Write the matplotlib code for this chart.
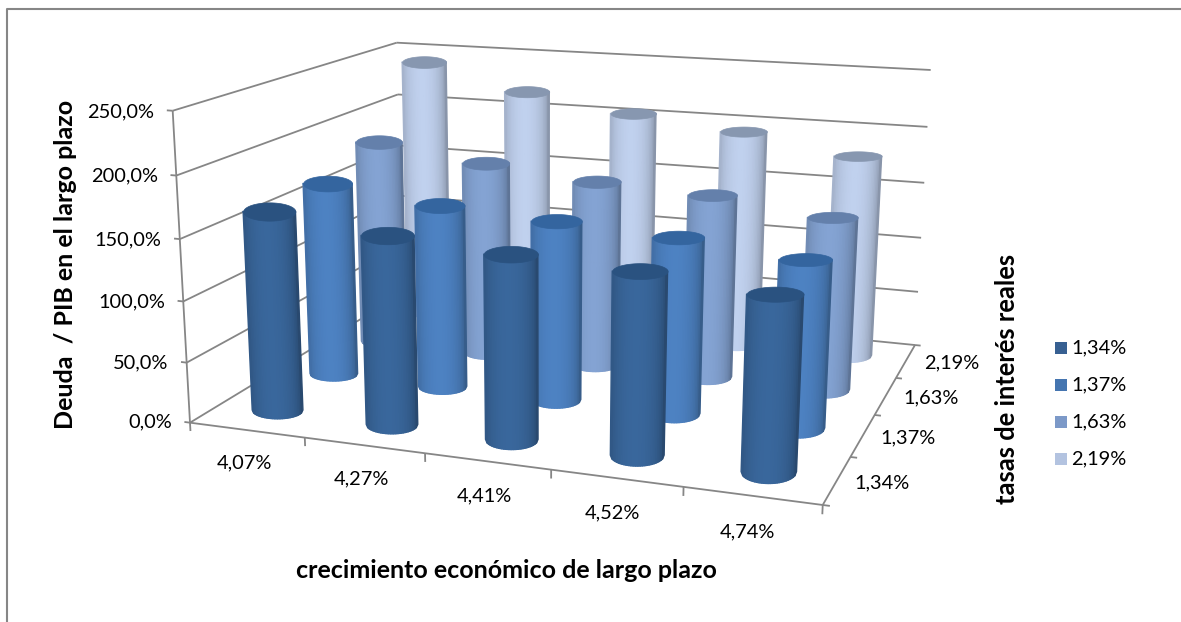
import numpy as np
import matplotlib
matplotlib.use("Agg")
import matplotlib.pyplot as plt
from matplotlib.lines import Line2D
from matplotlib.patches import Rectangle
from mpl_toolkits.mplot3d.art3d import Poly3DCollection

plt.rcParams['font.family'] = ['Lato', 'DejaVu Sans']

categories = ["4,07%", "4,27%", "4,41%", "4,52%", "4,74%"]
series_names = ["1,34%", "1,37%", "1,63%", "2,19%"]
v_134 = [165, 154, 148, 144, 136]
v_137 = [167, 156, 151, 146, 137]
v_163 = [184, 172, 163, 159, 148]
v_219 = [241, 219, 205, 195, 180]
values = [v_134, v_137, v_163, v_219]
z_ticks = [0, 50, 100, 150, 200, 250]
z_labels = ["0,0%", "50,0%", "100,0%", "150,0%", "200,0%", "250,0%"]
base_colors = ["#376396", "#4A7DBB", "#7F9DCB", "#B9C9E5"]
top_colors = ["#2A5280", "#34659F", "#6480AB", "#8797B0"]
legend_colors = ["#376092", "#4575B0", "#7C99C8", "#B3C3E0"]

W, H = 1181, 622
fig = plt.figure(figsize=(W / 100, H / 100), dpi=100, facecolor="white")
ax = fig.add_axes([0, 0, 1, 1], projection="3d", computed_zorder=False)
ax.set_proj_type("ortho")
ax.set_xticks([])
ax.set_yticks([])
ax.set_zticks([])
ax.set_axis_off()
ax.patch.set_visible(False)
ax.apply_aspect = lambda position=None: None

# camera calibration: axis box corners (data) -> canvas pixels
nx, ny, zmax = len(categories), len(series_names), z_ticks[-1]
calib = [((0, 0, zmax), (172.7, 110.7)), ((0, ny, zmax), (396.7, 42.7)),
         ((nx, ny, zmax), (930.7, 70.0)), ((0, 0, 0), (190.0, 422.7)),
         ((nx, 0, 0), (822.7, 505.0)), ((nx, ny, 0), (915.0, 345.0))]
rows = []
for (x, y, z), (u, v) in calib:
    z = z / zmax
    rows.append([x, y, z, 1, 0, 0, 0, 0, -u * x, -u * y, -u * z, -u])
    rows.append([0, 0, 0, 0, x, y, z, 1, -v * x, -v * y, -v * z, -v])
P = np.linalg.svd(np.array(rows, float))[2][-1].reshape(3, 4)
P[:, 2] /= zmax
if P[2, 3] < 0:
    P = -P


def project(x, y, z):
    q = P @ np.array([x, y, z, 1.0])
    return q[:2] / q[2]


x0, x1 = ax.viewLim.intervalx
y0, y1 = ax.viewLim.intervaly
A = np.array([[(x1 - x0) / W, 0, x0], [0, -(y1 - y0) / H, y1], [0, 0, 1]])
Q = A @ P
M = np.array([Q[0], Q[1], [0, 1e-3, 0, 0.5], Q[2]])
ax.get_proj = lambda: M

GRID = "#868686"
LW = 1.3


def seg(a, b, z=1):
    ax.plot([a[0], b[0]], [a[1], b[1]], [a[2], b[2]], color=GRID, lw=LW, zorder=z, solid_capstyle="butt")


for t in z_ticks:
    seg((0, 0, t), (0, ny, t))
    seg((0, ny, t), (nx, ny, t))
    seg((-0.05, 0, t), (0, 0, t))
seg((0, 0, 0), (0, 0, zmax))
seg((0, 0, 0), (nx, 0, 0))
seg((nx, 0, 0), (nx, ny, 0))
for i in range(nx + 1):
    seg((i, 0, 0), (i, 0, -7))
for j in range(ny + 1):
    seg((nx, j, 0), (nx + 0.05, j, 0))

RAD = 0.2


def shade(hexcol, f):
    c = np.array(matplotlib.colors.to_rgb(hexcol))
    return tuple(np.clip(c * f, 0, 1))


def level_ellipse(cx, cy, z, ratio, th):
    """Floor-plane ring around (cx, cy) at height z whose picture is a level ellipse."""
    c = project(cx, cy, z)
    ang = np.linspace(0, 2 * np.pi, 73)
    us = [project(cx + RAD * np.cos(a), cy + RAD * np.sin(a), z)[0] for a in ang]
    half = (max(us) - min(us)) / 2
    J = np.column_stack([project(cx + 0.01, cy, z) - c, project(cx, cy + 0.01, z) - c]) / 0.01
    Ji = np.linalg.inv(J)
    off = Ji @ np.vstack([half * np.cos(th), half * ratio * np.sin(th)])
    return cx + off[0], cy + off[1]


t_edges = np.linspace(-1, 1, 33)
th_front = np.arccos(-t_edges)[::-1]  # image-lower half of the ring, right to left
th_cap = np.linspace(0, 2 * np.pi, 73)

for j in reversed(range(ny)):
    for i in range(nx):
        cx, cy, h = i + 0.5, j + 0.5, values[j][i]
        ratio = (0.265 + 0.028 * (ny - 1 - j)) * (1 - 0.06 * i)
        ratio_b = (0.25 + 0.03 * (ny - 1 - j)) * (1 + 0.06 * i)
        bx, by = level_ellipse(cx, cy, 0, ratio_b, th_front)
        tx, ty = level_ellipse(cx, cy, h, ratio, th_front)
        polys, cols = [], []
        for k in range(len(th_front) - 1):
            polys.append([(bx[k], by[k], 0), (bx[k + 1], by[k + 1], 0),
                          (tx[k + 1], ty[k + 1], h), (tx[k], ty[k], h)])
            tt = np.cos(0.5 * (th_front[k] + th_front[k + 1]))
            f = 0.67 + 0.37 * np.sqrt(max(0, 1 - (tt + 0.1) ** 2 / 1.22))
            cols.append(shade(base_colors[j], f))
        side = Poly3DCollection(polys, facecolors=cols, edgecolors=cols, linewidths=1.0,
                                zorder=10 + 2 * ((ny - j) * 10 + i))
        ax.add_collection3d(side)
        cxs, cys = level_ellipse(cx, cy, h, ratio, th_cap)
        cap = [[(a, b, h) for a, b in zip(cxs, cys)]]
        ax.add_collection3d(Poly3DCollection(cap, facecolors=top_colors[j], edgecolors=top_colors[j],
                                             linewidths=0.5, zorder=11 + 2 * ((ny - j) * 10 + i)))

TXT = "#000000"
FS = 14.4


def place(x, y, z, lab, dv=0.0, **kw):
    u, v = project(x, y, z)
    fig.text(u / W, 1 - (v + dv) / H, lab, va="center", fontsize=FS, color=TXT, **kw)


for t, lab in zip(z_ticks, z_labels):
    place(-0.16, 0, t, lab, dv=2, ha="right")
for i, lab in enumerate(categories):
    place(i + 0.47, 0, -28, lab, ha="center")
for j, lab in enumerate(series_names):
    place(nx + 0.35 + 0.01 * (j * 2 - 1), j + 0.4, 6, lab, ha="center")


def px(x, y):
    return x / W, 1 - y / H


TS = 18
fig.text(*px(506, 571), "crecimiento económico de largo plazo", ha="center", va="center",
         fontsize=TS, fontweight="bold", color=TXT)
fig.text(*px(66, 264), "Deuda  / PIB en el largo plazo", ha="center", va="center", rotation=90,
         fontsize=TS, fontweight="bold", color=TXT)
fig.text(*px(1007, 379), "tasas de interés reales", ha="center", va="center", rotation=90,
         fontsize=18.4, fontweight="bold", color=TXT)

for k, (lab, col) in enumerate(zip(series_names, legend_colors)):
    yy = 348 + 37 * k
    fig.patches.append(Rectangle(px(1055, yy + 6), 12 / W, 12 / H, transform=fig.transFigure,
                                 facecolor=col, edgecolor="none"))
    fig.text(*px(1071, yy), lab, ha="left", va="center", fontsize=FS, color=TXT)

frame_xy = [(W, 8.5), (6.5, 8.5), (6.5, H)]
fig.add_artist(Line2D([p[0] / W for p in frame_xy], [1 - p[1] / H for p in frame_xy],
                      transform=fig.transFigure, color="#868686", lw=1.5, zorder=5))

fig.savefig("out.png", dpi=100)
